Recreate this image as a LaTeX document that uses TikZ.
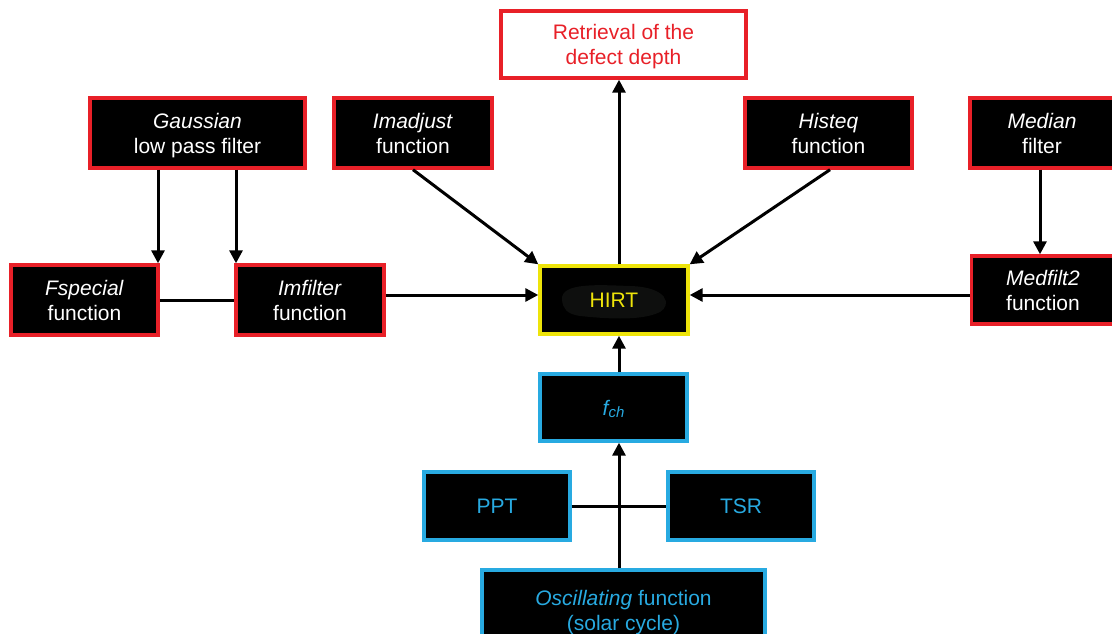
\documentclass[tikz,border=0pt]{standalone}
\usepackage{fontspec}
\setmainfont{Liberation Sans}
\usetikzlibrary{arrows.meta}
\definecolor{rd}{RGB}{232,32,40}
\definecolor{yl}{RGB}{238,228,10}
\definecolor{bl}{RGB}{40,170,225}
\definecolor{blob}{RGB}{14,15,14}
\tikzset{
  box/.style={draw, line width=3.4pt, fill=black, inner sep=0pt, align=center, text depth=0pt, font=\fontsize{21}{25}\selectfont},
  redbox/.style={box, draw=rd, text=white},
  conn/.style={line width=3pt, -{Triangle[length=13pt,width=13pt]}},
  link/.style={line width=3pt},
}
\begin{document}
\begin{tikzpicture}[x=1pt,y=-1pt]
\useasboundingbox (0,0) rectangle (1112,634);
\clip (0,0) rectangle (1112,634);
% boxes
\node[box, draw=rd, fill=white, text=rd, minimum width=245pt, minimum height=67pt] (ret) at (623.5,44.5) {Retrieval of the\\defect depth};
\node[redbox, minimum width=215pt, minimum height=70pt] (gau) at (197.5,133) {\textit{Gaussian}\\low pass filter};
\node[redbox, minimum width=158pt, minimum height=70pt] (ima) at (413,133) {\textit{Imadjust}\\function};
\node[redbox, minimum width=167pt, minimum height=70pt] (his) at (828.5,133) {\textit{Histeq}\\function};
\node[redbox, minimum width=144pt, minimum height=70pt] (med) at (1042,133) {\textit{Median}\\filter};
\node[redbox, minimum width=147pt, minimum height=70pt] (fsp) at (84.5,300) {\textit{Fspecial}\\function};
\node[redbox, minimum width=148pt, minimum height=70pt] (imf) at (310,300) {\textit{Imfilter}\\function};
\node[redbox, minimum width=143pt, minimum height=68pt] (mf2) at (1043,290) {\textit{Medfilt2}\\function};
\node[box, draw=yl, minimum width=148pt, minimum height=68pt] (hirt) at (614,300) {};
\fill[blob] (562,300) .. controls (560,282) and (600,285) .. (630,286) .. controls (668,287) and (672,305) .. (660,312) .. controls (640,322) and (600,318) .. (580,316) .. controls (566,314) and (563,308) .. (562,300) -- cycle;
\node[text=yl, font=\fontsize{21}{25}\selectfont] at (hirt.center) {HIRT};
\node[box, draw=bl, text=bl, minimum width=147pt, minimum height=67pt] (fch) at (613.5,407.5) {\textit{f\raisebox{-0.25ex}{\fontsize{15}{17}\selectfont ch}}};
\node[box, draw=bl, text=bl, minimum width=146pt, minimum height=68pt] (ppt) at (497,506) {PPT};
\node[box, draw=bl, text=bl, minimum width=146pt, minimum height=68pt] (tsr) at (741,506) {TSR};
\node[box, draw=bl, text=bl, minimum width=283pt, minimum height=80pt] (osc) at (623.5,610) {\textit{Oscillating} function\\(solar cycle)};
% connectors
\draw[link] (fsp.east |- 0,300) -- (imf.west |- 0,300);
\draw[link] (ppt.east) -- (tsr.west);
\draw[conn] (hirt.north -| 619,0) -- (ret.south -| 619,0);
\draw[conn] (gau.south -| 158,0) -- (fsp.north -| 158,0);
\draw[conn] (gau.south -| 236,0) -- (imf.north -| 236,0);
\draw[conn] (imf.east |- 0,295) -- (hirt.west |- 0,295);
\draw[conn] (ima.south) -- (hirt.north west);
\draw[conn] (his.south -| 830,0) -- (hirt.north east);
\draw[conn] (med.south -| 1040,0) -- (mf2.north -| 1040,0);
\draw[conn] (mf2.west |- 0,295) -- (hirt.east |- 0,295);
\draw[conn] (fch.north -| 619,0) -- (hirt.south -| 619,0);
\draw[conn] (osc.north -| 619,0) -- (fch.south -| 619,0);
\end{tikzpicture}
\end{document}
